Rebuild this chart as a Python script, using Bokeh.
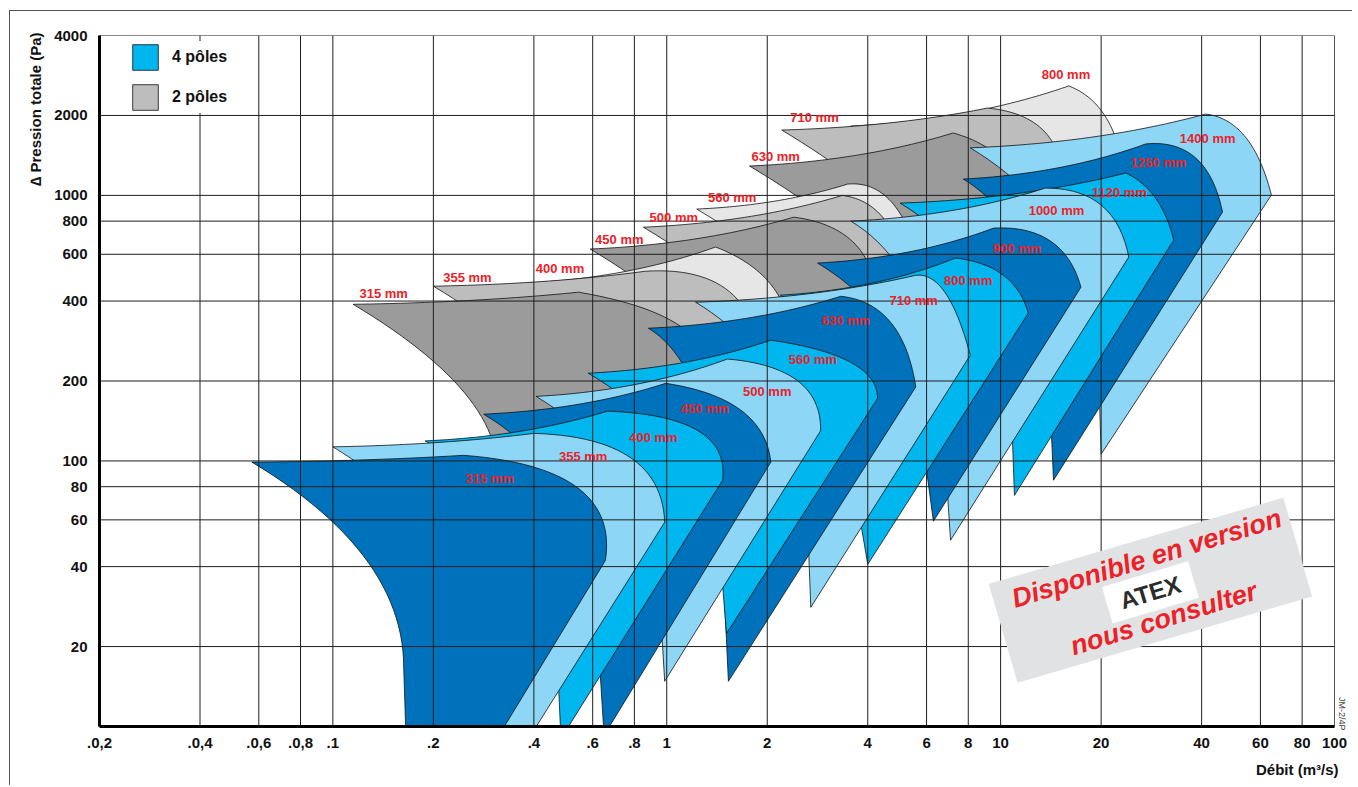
import numpy as np
from bokeh.plotting import figure
from bokeh.models import ColumnDataSource, FixedTicker, Legend, LegendItem, Title
from bokeh.core.properties import value
from bokeh.embed import file_html
from bokeh.resources import INLINE

# ---------------- data ----------------
x_ticks = [0.02, 0.04, 0.06, 0.08, 0.1, 0.2, 0.4, 0.6, 0.8, 1.0, 2.0, 4.0, 6.0, 8.0, 10.0, 20.0, 40.0, 60.0, 80.0, 100.0]
x_tick_labels = [".0,2", ".0,4", ".0,6", ".0,8", ".1", ".2", ".4", ".6", ".8", "1", "2", "4", "6", "8", "10", "20", "40", "60", "80", "100"]
y_ticks = [20.0, 40.0, 60.0, 80.0, 100.0, 200.0, 400.0, 600.0, 800.0, 1000.0, 2000.0, 4000.0]
y_tick_labels = ["20", "40", "60", "80", "100", "200", "400", "600", "800", "1000", "2000", "4000"]

# 4 pôles fan envelopes (Débit m3/s, Pression Pa) - key points of each envelope
blue_sizes = [315, 355, 400, 450, 500, 560, 630, 710, 800, 900, 1000, 1120, 1250, 1400]
blue_tip_q = [0.0572, 0.100, 0.189, 0.283, 0.406, 0.582, 0.881, 1.22, 2.19, 2.83, 3.56, 5.0, 7.73, 8.11]
blue_tip_p = [99, 113, 119, 150, 175, 214, 316, 396, 421, 556, 800, 935, 1152, 1510]
blue_peak_q = [0.246, 0.40, 0.664, 0.993, 1.52, 2.05, 3.32, 5.57, 7.33, 9.53, 13.6, 23.7, 27.2, 41.1]
blue_peak_p = [105, 127, 154, 196, 242, 285, 417, 500, 581, 753, 1065, 1214, 1562, 2024]
blue_mid_q = [0.539, 0.778, 1.24, 1.67, 2.47, 3.56, 4.68, 6.84, 10.2, 14.1, 20.0, 29.1, 38.4, 54.1]
blue_mid_p = [79.5, 103, 130, 155, 200, 235, 333, 428, 500, 673, 919, 977, 1383, 1659]
blue_nose_q = [0.655, 0.986, 1.47, 2.05, 2.89, 4.28, 5.57, 8.11, 12.1, 17.4, 24.2, 33.0, 46.2, 64.7]
blue_nose_p = [42.2, 58.8, 84.6, 99, 130, 172, 190, 250, 360, 451, 586, 679, 865, 1003]
blue_low_q = [0.171, 0.245, 0.482, 0.649, 0.986, 1.51, 1.53, 2.70, 4.0, 6.29, 7.08, 11.0, 14.4, 20.0]
blue_low_p = [2.63, 3.63, 9.0, 9.26, 14.8, 22.4, 14.8, 28.1, 40.8, 59.3, 50.3, 74.2, 84.6, 106]
blue_knee_q = [0.163, 0.233, 0.469, 0.623, 0.953, 1.45, 1.49, 2.64, 3.71, 6.0, 6.89, 10.8, 14.1, 19.7]
blue_knee_p = [16.7, 21.1, 19.4, 21.1, 30, 42.2, 30, 60, 71.1, 92.3, 84.6, 142, 155, 201]
blue_label_q = [0.295, 0.562, 0.912, 1.30, 2.0, 2.74, 3.44, 5.49, 8.0, 11.2, 14.7, 22.7, 29.7, 41.7]
blue_label_p = [86.1, 104, 123, 157, 183, 242, 339, 403, 476, 633, 880, 1029, 1335, 1644]

# 2 pôles fan envelopes
gray_sizes = [315, 355, 400, 450, 500, 560, 630, 710, 800]
gray_tip_q = [0.115, 0.2, 0.378, 0.59, 0.851, 1.23, 1.77, 2.21, 3.56]
gray_tip_p = [389, 455, 467, 628, 759, 888, 1290, 1762, 1824]
gray_peak_q = [0.544, 0.863, 1.40, 2.4, 3.36, 3.48, 7.21, 9.12, 16.0]
gray_peak_p = [432, 518, 639, 828, 1000, 1103, 1718, 2132, 2583]
gray_mid_q = [1.12, 1.52, 2.0, 3.56, 4.38, 4.52, 10.0, 13.2, 20.9]
gray_mid_p = [316, 440, 479, 679, 842, 994, 1383, 1793, 1922]
gray_nose_q = [1.31, 1.91, 2.35, 4.23, 5.09, 5.45, 11.9, 15.3, 23.7]
gray_nose_p = [190, 240, 311, 440, 561, 679, 960, 1193, 1093]
gray_low_q = [0.318, 0.544, 1.01, 1.65, 2.4, 3.27, 4.78, 5.92, 9.53]
gray_low_p = [11.2, 19.5, 57.8, 66.4, 125, 244, 155, 175, 177]
gray_knee_q = [0.311, 0.532, 0.993, 1.61, 2.35, 3.2, 4.68, 5.75, 9.34]
gray_knee_p = [92.3, 110, 120, 155, 185, 311, 403, 523, 571]
gray_label_q = [0.142, 0.253, 0.479, 0.721, 1.05, 1.57, 2.12, 2.77, 15.7]
gray_label_p = [428, 492, 532, 685, 828, 985, 1407, 1972, 2864]

# ATEX note position (data coords of its centre)
note_q, note_p = 28.1, 32.6
note_line1_q, note_line1_p = 27.4, 43.0
note_line2_q, note_line2_p = 30.8, 25.5
note_logo_q, note_logo_p = 28.1, 32.0

# ---------------- styles ----------------
BLUES = ["#0072bb", "#8ed6f6", "#00b6ee"]
GRAYS = ["#9b9b9b", "#bdbdbd", "#e6e6e6"]
RED = "#ea2229"
AXIS_FONT = "Liberation Sans"


def qbez(a, c, b, n=28):
    t = np.linspace(0.0, 1.0, n)[:, None]
    return (1 - t) ** 2 * a + 2 * (1 - t) * t * c + t ** 2 * b


def outline(tip, peak, mid, nose, low, knee):
    T, K, M, R, B, L = [np.log10(np.array(pt, dtype=float)) for pt in (tip, peak, mid, nose, low, knee)]
    c1 = np.array([T[0] + 0.55 * (K[0] - T[0]), T[1] + 0.15 * (K[1] - T[1])])
    top = qbez(T, c1, K)
    c2 = 2 * M - 0.5 * (K + R)
    right = qbez(K, c2, R)
    c3 = np.array([L[0], T[1] - 0.755 * (L[0] - T[0])])
    left = qbez(T, c3, L)[::-1]
    pts = np.vstack([top, right[1:], B[None, :], left[:-1]])
    return list(10 ** pts[:, 0]), list(10 ** pts[:, 1])


def build(tq, tp, kq, kp, mq, mp, nq, np_, lq, lp, gq, gp, palette):
    xs, ys, cols = [], [], []
    for i in range(len(tq)):
        x, y = outline((tq[i], tp[i]), (kq[i], kp[i]), (mq[i], mp[i]),
                       (nq[i], np_[i]), (lq[i], lp[i]), (gq[i], gp[i]))
        xs.append(x)
        ys.append(y)
        cols.append(palette[i % 3])
    # largest drawn first, smallest on top
    return dict(xs=xs[::-1], ys=ys[::-1], color=cols[::-1])


gray_src = ColumnDataSource(build(gray_tip_q, gray_tip_p, gray_peak_q, gray_peak_p, gray_mid_q, gray_mid_p,
                                  gray_nose_q, gray_nose_p, gray_low_q, gray_low_p, gray_knee_q, gray_knee_p, GRAYS))
blue_src = ColumnDataSource(build(blue_tip_q, blue_tip_p, blue_peak_q, blue_peak_p, blue_mid_q, blue_mid_p,
                                  blue_nose_q, blue_nose_p, blue_low_q, blue_low_p, blue_knee_q, blue_knee_p, BLUES))

p = figure(x_axis_type="log", y_axis_type="log", x_range=(0.02, 100), y_range=(10, 4000),
           frame_width=1235, frame_height=691, min_border_left=89, min_border_right=18,
           min_border_top=24, min_border_bottom=50, output_backend="svg", toolbar_location=None)
p.styles = {"margin-left": "9px", "margin-top": "10px",
            "border-left": "1px solid #555555", "border-top": "1px solid #555555"}
p.background_fill_color = "white"
p.border_fill_color = "white"
p.outline_line_color = "#8a8a8a"
p.outline_line_width = 1
p.xgrid.grid_line_color = None
p.ygrid.grid_line_color = None

r_gray = p.patches("xs", "ys", source=gray_src, fill_color="color", line_color="#111111", line_width=0.8)
r_blue = p.patches("xs", "ys", source=blue_src, fill_color="color", line_color="#111111", line_width=0.8)

# grid lines on top of the envelopes
vx = x_ticks[1:]
p.multi_line(xs=[[t, t] for t in vx], ys=[[10, 4000] for _ in vx], line_color="#1e1e1e", line_width=1)
hy = y_ticks[:-1]
p.multi_line(xs=[[0.02, 100] for _ in hy], ys=[[t, t] for t in hy], line_color="#1e1e1e", line_width=1)

# axes
for ax, ticks, labels in ((p.xaxis, x_ticks, x_tick_labels), (p.yaxis, y_ticks, y_tick_labels)):
    ax.ticker = FixedTicker(ticks=ticks)
    ax.major_label_overrides = {t: l for t, l in zip(ticks, labels)}
    ax.major_tick_line_color = None
    ax.minor_tick_line_color = None
    ax.major_tick_out = 0
    ax.major_tick_in = 0
    ax.axis_line_width = 3
    ax.axis_line_color = "black"
    ax.major_label_text_font = AXIS_FONT
    ax.major_label_text_font_style = "bold"
    ax.major_label_text_font_size = "15px"
    ax.major_label_text_color = "#111111"
p.xaxis.major_label_standoff = 11
p.yaxis.major_label_standoff = 12

# ATEX note
p.rect(x=[note_q], y=[note_p], width=307, height=103, width_units="screen", height_units="screen",
       angle=0.285, fill_color="#e1e2e4", line_color=None)
p.rect(x=[note_logo_q], y=[note_logo_p], width=90, height=38, width_units="screen", height_units="screen",
       angle=0.29, fill_color="white", line_color=None)
p.text(x=[note_line1_q, note_line2_q], y=[note_line1_p, note_line2_p], text=["Disponible en version", "nous consulter"],
       angle=0.297, text_font=value(AXIS_FONT), text_font_style="bold italic", text_font_size="27px",
       text_color=RED, text_align="center", text_baseline="middle")
p.text(x=[note_logo_q], y=[note_logo_p], text=["ATEX"], angle=0.29, text_font=value(AXIS_FONT),
       text_font_style="bold", text_font_size="24px", text_color="#2b2b2b", text_align="center", text_baseline="middle")

# size labels
lab_src = ColumnDataSource(dict(
    x=blue_label_q + gray_label_q,
    y=blue_label_p + gray_label_p,
    t=[f"{s} mm" for s in blue_sizes] + [f"{s} mm" for s in gray_sizes]))
p.text(x="x", y="y", text="t", source=lab_src, text_font=value(AXIS_FONT), text_font_style="bold",
       text_font_size="13px", text_color=RED, text_align="center", text_baseline="middle")

# legend
legend = Legend(items=[LegendItem(label="4 pôles", renderers=[r_blue], index=2),
                       LegendItem(label="2 pôles", renderers=[r_gray], index=1)],
                location=(30, 613), orientation="vertical", glyph_width=32, glyph_height=32,
                spacing=8, padding=3, margin=0, label_standoff=11,
                label_text_font=AXIS_FONT, label_text_font_style="bold", label_text_font_size="16px",
                label_text_color="#111111", background_fill_color="white", background_fill_alpha=1.0,
                border_line_color=None)
p.add_layout(legend)

# titles
p.add_layout(Title(text="∆ Pression totale (Pa)", align="right", offset=-3, standoff=15,
                   text_font=AXIS_FONT, text_font_style="bold", text_font_size="15px",
                   text_color="#111111"), "left")
p.add_layout(Title(text="Débit (m³/s)", align="right", offset=-4, standoff=16,
                   text_font=AXIS_FONT, text_font_style="bold", text_font_size="15px",
                   text_color="#111111"), "below")
p.add_layout(Title(text="JM-2/4P", align="right", offset=-4, standoff=4,
                   text_font=AXIS_FONT, text_font_style="normal", text_font_size="9px",
                   text_color="#444444"), "right")

open("out.html", "w").write(file_html(p, INLINE))
